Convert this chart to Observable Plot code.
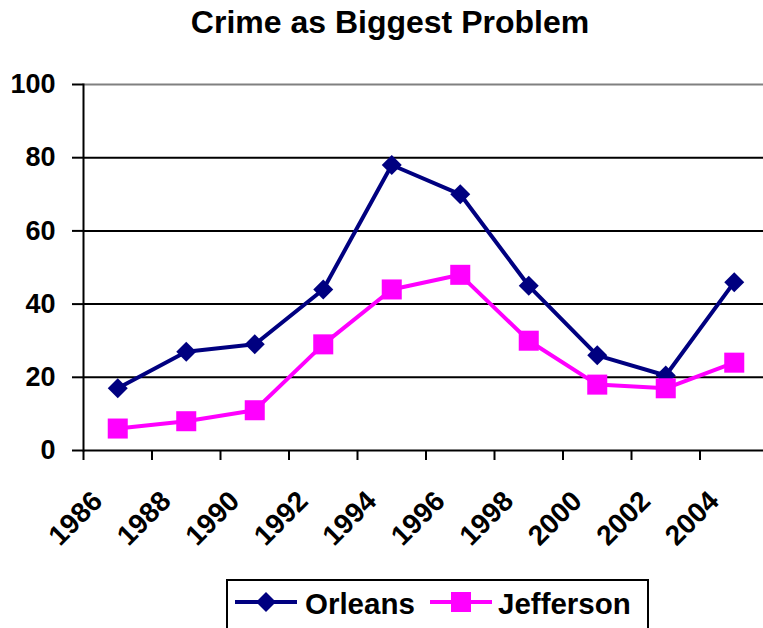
<!DOCTYPE html>
<html>
<head>
<meta charset="utf-8">
<script src="https://cdn.jsdelivr.net/npm/d3@7"></script>
<script src="https://cdn.jsdelivr.net/npm/@observablehq/plot@0.6"></script>
<style>
  html, body { margin: 0; padding: 0; background: #fff; overflow: hidden; }
  body { width: 763px; height: 628px; position: relative; font-family: "Liberation Sans", Arial, sans-serif; }
  #title { position: absolute; left: 0; top: 0; width: 780px; height: 44px; text-align: center;
           font-weight: bold; font-size: 32px; line-height: 44px; color: #000; }
  #chart { position: absolute; left: 0; top: 44px; }
  #legend { position: absolute; left: 226px; top: 579px; }
</style>
</head>
<body>
<div id="title">Crime as Biggest Problem</div>
<div id="chart"></div>
<div id="legend"></div>
<script>
const years = [1986, 1988, 1990, 1992, 1994, 1996, 1998, 2000, 2002, 2004];
const orleans = [17, 27, 29, 44, 78, 70, 45, 26, 20.5, 46];
const jefferson = [6, 8, 11, 29, 44, 48, 30, 18, 17, 24];
const yTicks = [0, 20, 40, 60, 80, 100];
const boundaryTicks = [1985, 1987, 1989, 1991, 1993, 1995, 1997, 1999, 2001, 2003];
const seriesNames = ["Orleans", "Jefferson"];
const seriesColors = ["#000080", "#FF00FF"];

const rowsO = years.map((yr, i) => ({year: yr, value: orleans[i]}));
const rowsJ = years.map((yr, i) => ({year: yr, value: jefferson[i]}));

const font = "Liberation Sans, Arial, sans-serif";

const chart = Plot.plot({
  width: 763,
  height: 530,
  marginTop: 40,
  marginBottom: 124,
  marginLeft: 83,
  marginRight: 0,
  style: {fontFamily: font, background: "transparent", overflow: "visible"},
  x: {domain: [1985, 2005], range: [83, 768]},
  y: {domain: [0, 100]},
  marks: [
    Plot.ruleY(yTicks.filter(d => d < 100), {y: d => d, stroke: "#000", strokeWidth: 2}),
    Plot.ruleY(yTicks.filter(d => d === 100), {y: d => d, stroke: "#808080", strokeWidth: 2}),
    Plot.frame({anchor: "left", stroke: "#000", strokeWidth: 2}),
    Plot.axisY({ticks: yTicks, tickSize: 11, tickPadding: 17, fontSize: 27, fontWeight: "bold",
                stroke: "#000", strokeWidth: 2, fill: "#000", label: null}),
    Plot.axisX({ticks: boundaryTicks, tickSize: 10, tickFormat: () => "", stroke: "#000", strokeWidth: 2, label: null}),
    Plot.text(years, {x: d => d, y: 0, text: d => String(d), rotate: -45, textAnchor: "end",
                      lineAnchor: "middle", dx: -20, dy: 46, fontSize: 28, fontWeight: "bold", fill: "#000"}),
    Plot.line(rowsO, {x: "year", y: "value", stroke: seriesColors[0], strokeWidth: 4}),
    Plot.line(rowsJ, {x: "year", y: "value", stroke: seriesColors[1], strokeWidth: 4}),
    Plot.dot(rowsO, {x: "year", y: "value", symbol: "diamond2", r: 9, fill: seriesColors[0], stroke: "none"}),
    Plot.dot(rowsJ, {x: "year", y: "value", symbol: "square", r: 11.3, fill: seriesColors[1], stroke: "none"})
  ]
});
document.getElementById("chart").appendChild(chart);

// Legend
const lg = d3.select("#legend").append("svg").attr("width", 440).attr("height", 60)
  .style("font-family", font).style("overflow", "visible");
lg.append("rect").attr("x", 1).attr("y", 1).attr("width", 421).attr("height", 70)
  .attr("fill", "none").attr("stroke", "#000").attr("stroke-width", 2);
const items = [
  {name: seriesNames[0], color: seriesColors[0], lx: 9, tx: 79, sym: d3.symbolDiamond2, size: 255},
  {name: seriesNames[1], color: seriesColors[1], lx: 204, tx: 272, sym: d3.symbolSquare, size: 400}
];
items.forEach(it => {
  lg.append("line").attr("x1", it.lx).attr("x2", it.lx + 62).attr("y1", 23).attr("y2", 23)
    .attr("stroke", it.color).attr("stroke-width", 4);
  lg.append("path").attr("d", d3.symbol(it.sym, it.size)()).attr("transform", `translate(${it.lx + 31},23)`)
    .attr("fill", it.color);
  lg.append("text").attr("x", it.tx).attr("y", 35).attr("font-size", 29.5).attr("font-weight", "bold")
    .attr("fill", "#000").text(it.name);
});
</script>
</body>
</html>
